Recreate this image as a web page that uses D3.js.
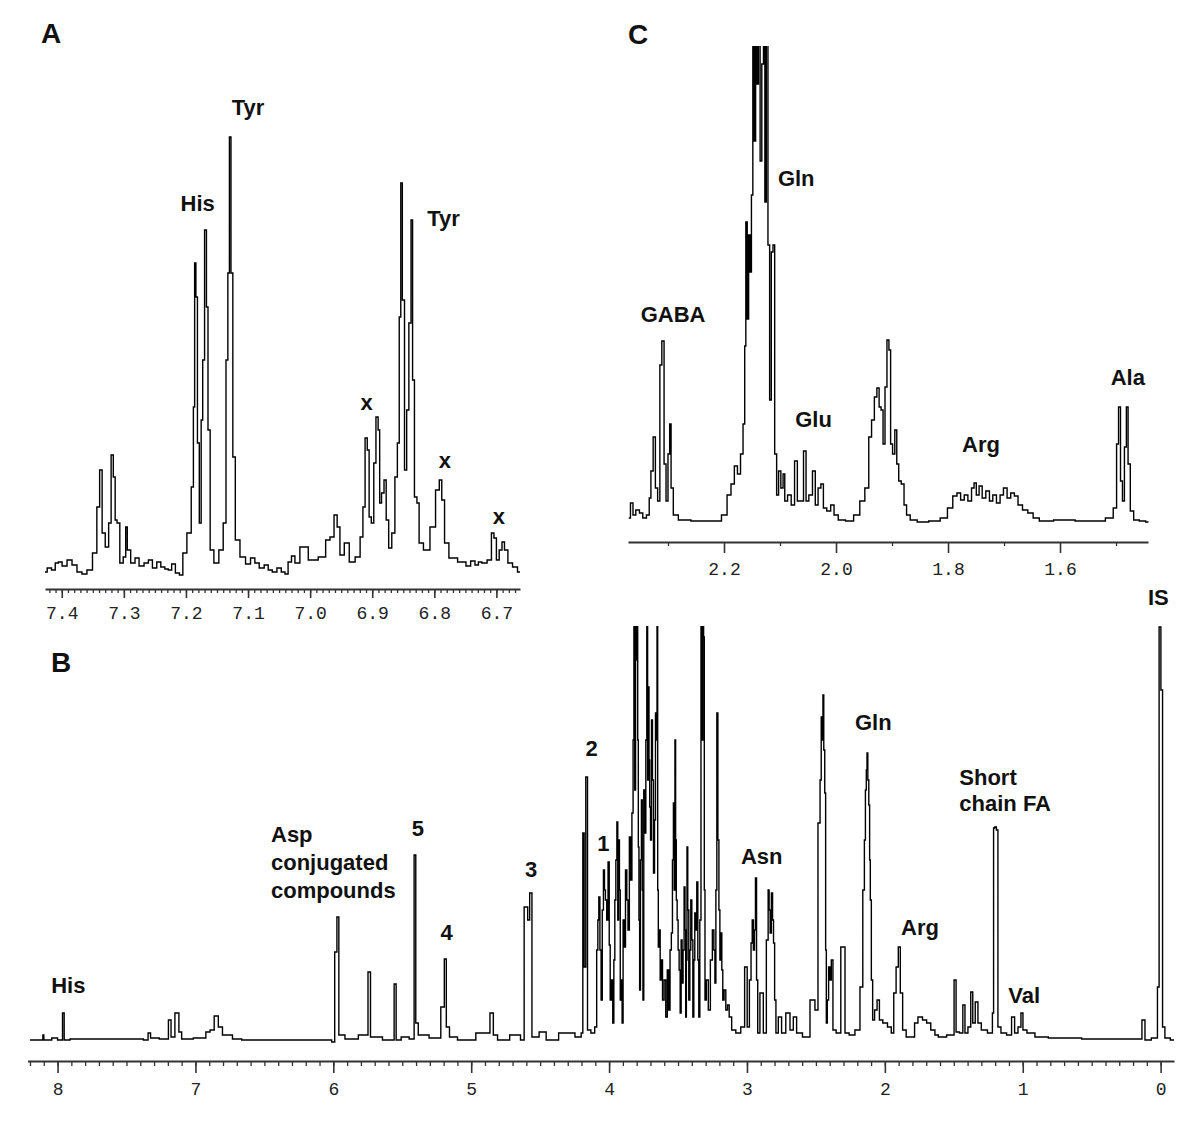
<!DOCTYPE html>
<html>
<head>
<meta charset="utf-8">
<script src="https://cdn.jsdelivr.net/npm/d3@7"></script>
<style>
  body { margin: 0; background: #fff; }
  svg { display: block; }
</style>
</head>
<body>
<svg id="fig" width="1200" height="1133"></svg>
<script>
// ---- panel A : aromatic region, [ppm, intensity]
const spectrumA = [
  [7.427,6],[7.420,10],[7.413,8],[7.408,15],[7.403,16],[7.396,12],[7.387,18],[7.380,13],[7.371,6],[7.364,4],[7.355,8],
  [7.346,25],[7.341,71],[7.337,108],[7.333,45],[7.327,31],[7.322,55],[7.319,123],[7.315,101],[7.313,58],[7.309,55],
  [7.304,15],[7.298,21],[7.296,51],[7.293,28],[7.285,15],[7.279,20],[7.272,12],[7.263,15],[7.258,18],[7.250,10],
  [7.244,16],[7.237,11],[7.231,9],[7.226,8],[7.220,14],[7.214,5],[7.207,3],[7.203,25],[7.194,45],[7.189,91],
  [7.187,171],[7.185,315],[7.183,281],[7.180,135],[7.177,55],[7.174,158],[7.172,218],[7.168,348],[7.166,271],
  [7.163,148],[7.159,28],[7.151,15],[7.143,28],[7.137,55],[7.134,218],[7.131,305],[7.129,441],[7.126,305],
  [7.123,121],[7.118,38],[7.108,21],[7.100,14],[7.092,20],[7.086,15],[7.078,10],[7.070,13],[7.065,8],[7.057,6],
  [7.050,10],[7.043,6],[7.038,4],[7.033,16],[7.027,22],[7.022,15],[7.011,31],[6.995,18],[6.979,21],[6.971,38],
  [6.965,41],[6.958,63],[6.955,51],[6.949,23],[6.941,35],[6.933,16],[6.922,21],[6.917,41],[6.913,71],[6.910,140],
  [6.906,128],[6.904,61],[6.899,55],[6.896,115],[6.892,161],[6.889,148],[6.887,75],[6.883,85],[6.879,98],
  [6.876,58],[6.871,30],[6.866,45],[6.861,101],[6.858,135],[6.855,261],[6.853,395],[6.850,278],[6.846,108],
  [6.843,168],[6.839,255],[6.836,358],[6.834,198],[6.830,81],[6.826,75],[6.823,35],[6.812,28],[6.802,51],
  [6.794,88],[6.790,98],[6.786,78],[6.781,35],[6.772,20],[6.753,16],[6.745,12],[6.738,17],[6.731,13],[6.727,16],
  [6.720,15],[6.710,18],[6.706,45],[6.702,40],[6.698,18],[6.693,28],[6.689,36],[6.685,28],[6.678,15],[6.670,11],
  [6.662,6]
];
const ticksA = [7.4, 7.3, 7.2, 7.1, 7.0, 6.9, 6.8, 6.7];
const labelsA = [
  ["His", 7.181, 375], ["Tyr", 7.100, 471], ["Tyr", 6.785, 360],
  ["x", 6.909, 176], ["x", 6.783, 118], ["x", 6.696, 62]
];

// ---- panel C : aliphatic zoom
const spectrumC = [
  [2.370,4],[2.364,19],[2.361,7],[2.354,12],[2.348,9],[2.342,4],[2.335,7],[2.332,24],[2.329,51],[2.324,85],
  [2.321,34],[2.316,21],[2.313,157],[2.309,181],[2.305,58],[2.302,21],[2.298,68],[2.296,98],[2.293,34],[2.288,7],
  [2.275,2],[2.243,1],[2.211,1],[2.198,7],[2.191,27],[2.184,38],[2.179,56],[2.173,48],[2.168,68],[2.164,98],
  [2.162,176],[2.160,300],[2.157,203],[2.155,287],[2.152,250],[2.150,327],[2.147,520],[2.145,381],[2.142,520],
  [2.140,438],[2.137,520],[2.134,361],[2.131,458],[2.128,520],[2.126,320],[2.123,520],[2.120,277],[2.117,122],
  [2.114,270],[2.111,277],[2.108,68],[2.104,27],[2.101,51],[2.096,34],[2.093,48],[2.090,21],[2.083,27],[2.077,17],
  [2.071,61],[2.067,21],[2.061,21],[2.055,71],[2.052,21],[2.045,27],[2.039,51],[2.035,17],[2.029,34],[2.025,38],
  [2.020,14],[2.013,11],[2.006,17],[2.001,7],[1.991,2],[1.975,1],[1.962,7],[1.953,21],[1.944,34],[1.939,85],
  [1.934,102],[1.929,125],[1.925,134],[1.921,115],[1.918,112],[1.914,78],[1.911,135],[1.907,182],[1.904,172],
  [1.901,78],[1.897,68],[1.893,92],[1.890,58],[1.886,41],[1.881,38],[1.876,17],[1.872,7],[1.863,2],[1.847,0],
  [1.822,1],[1.806,4],[1.796,14],[1.787,26],[1.781,29],[1.774,22],[1.768,27],[1.761,21],[1.755,34],[1.752,39],
  [1.747,27],[1.742,36],[1.736,24],[1.729,31],[1.723,21],[1.717,27],[1.710,19],[1.704,27],[1.698,34],[1.691,24],
  [1.685,29],[1.678,26],[1.672,17],[1.662,12],[1.653,9],[1.643,4],[1.631,1],[1.592,2],[1.554,1],[1.529,1],
  [1.509,4],[1.501,14],[1.497,78],[1.494,115],[1.490,41],[1.487,21],[1.483,75],[1.480,115],[1.477,58],[1.472,11],
  [1.465,2],[1.452,1],[1.442,0]
];
const ticksC = [2.2, 2.0, 1.8, 1.6];
const minorC = [2.3, 2.1, 1.9, 1.7, 1.5];
const labelsC = [
  ["GABA", 2.291, 208], ["Gln", 2.071, 344], ["Glu", 2.040, 103],
  ["Arg", 1.741, 78], ["Ala", 1.479, 145]
];

// ---- panel B : full spectrum
const spectrumB = [
  [8.200,0],[8.110,0],[8.103,5],[8.096,0],[8.054,0],[8.030,2],[7.970,0],[7.958,27],[7.946,0],[7.873,1],[7.716,1],
  [7.559,1],[7.402,1],[7.353,0],[7.334,7],[7.317,2],[7.208,1],[7.184,20],[7.170,3],[7.128,27],[7.112,8],[7.088,1],
  [6.943,2],[6.906,8],[6.882,10],[6.846,24],[6.822,13],[6.786,5],[6.677,1],[6.652,0],[6.024,0],[6.000,-2],
  [5.980,88],[5.968,123],[5.952,5],[5.879,1],[5.758,5],[5.739,68],[5.722,3],[5.565,0],[5.553,56],[5.536,0],
  [5.480,3],[5.420,1],[5.408,185],[5.396,17],[5.372,5],[5.239,2],[5.202,33],[5.188,81],[5.173,13],[5.142,3],
  [5.057,0],[4.876,7],[4.852,27],[4.827,5],[4.791,0],[4.651,5],[4.634,0],[4.598,133],[4.583,120],[4.569,147],
  [4.550,3],[4.465,8],[4.448,0],[4.284,7],[4.211,3],[4.194,7],[4.187,207],[4.175,73],[4.163,263],[4.150,10],
  [4.114,7],[4.095,13],[4.085,90],[4.071,143],[4.054,40],[4.037,170],[4.023,140],[4.003,178],[3.989,40],
  [3.969,17],[3.955,140],[3.940,218],[3.928,200],[3.916,40],[3.902,17],[3.887,93],[3.868,140],[3.848,203],
  [3.829,227],[3.817,440],[3.805,440],[3.795,440],[3.786,193],[3.776,50],[3.762,240],[3.752,40],[3.737,207],
  [3.723,440],[3.713,353],[3.703,233],[3.689,320],[3.674,167],[3.660,327],[3.650,440],[3.641,93],[3.626,60],
  [3.607,40],[3.583,23],[3.563,30],[3.544,107],[3.530,237],[3.520,300],[3.510,140],[3.496,90],[3.481,27],
  [3.467,57],[3.452,153],[3.442,23],[3.433,193],[3.418,40],[3.404,140],[3.389,23],[3.375,127],[3.360,158],
  [3.346,23],[3.329,440],[3.317,440],[3.312,403],[3.302,40],[3.273,30],[3.244,110],[3.229,57],[3.215,327],
  [3.200,130],[3.186,107],[3.172,40],[3.147,30],[3.123,23],[3.099,10],[3.063,7],[3.027,13],[3.007,73],[2.990,13],
  [2.966,97],[2.949,90],[2.935,162],[2.918,7],[2.894,47],[2.869,7],[2.843,150],[2.828,107],[2.818,147],[2.804,97],
  [2.785,7],[2.761,23],[2.737,7],[2.700,27],[2.676,10],[2.652,23],[2.628,7],[2.567,3],[2.519,40],[2.495,30],
  [2.475,217],[2.458,323],[2.446,345],[2.432,247],[2.422,17],[2.403,73],[2.384,80],[2.369,10],[2.338,7],
  [2.301,93],[2.277,7],[2.241,5],[2.193,10],[2.168,53],[2.152,150],[2.137,250],[2.127,287],[2.113,235],
  [2.103,140],[2.093,60],[2.084,20],[2.065,30],[2.048,40],[2.031,20],[1.999,17],[1.963,13],[1.944,7],[1.927,47],
  [1.910,73],[1.895,93],[1.881,47],[1.861,10],[1.830,3],[1.794,3],[1.775,17],[1.745,23],[1.709,20],[1.685,17],
  [1.649,10],[1.625,5],[1.600,3],[1.504,5],[1.492,60],[1.475,8],[1.443,7],[1.426,35],[1.412,7],[1.383,13],
  [1.371,48],[1.354,17],[1.335,38],[1.315,17],[1.286,10],[1.226,7],[1.214,27],[1.209,212],[1.197,213],
  [1.185,210],[1.175,13],[1.141,7],[1.093,5],[1.069,23],[1.049,7],[1.020,13],[1.006,27],[0.991,10],[0.948,7],
  [0.875,3],[0.754,2],[0.392,1],[0.150,1],[0.121,20],[0.106,0],[0.029,2],[0.017,53],[0.005,413],[-0.009,350],
  [-0.019,13],[-0.043,2],[-0.097,0]
];
// the crowded 2-4 ppm multiplets: further lines
const crowdB = [
  [4.078,120],[4.062,90],[4.045,130],[4.030,150],[4.012,120],[3.995,95],[3.978,60],[3.962,80],[3.947,180],
  [3.934,120],[3.922,150],[3.909,60],[3.895,120],[3.875,170],[3.858,110],[3.840,160],[3.823,300],[3.811,250],
  [3.800,380],[3.790,300],[3.781,120],[3.769,180],[3.757,150],[3.745,250],[3.730,300],[3.718,260],[3.708,280],
  [3.696,200],[3.682,260],[3.667,220],[3.655,300],[3.645,150],[3.633,110],[3.618,80],[3.595,60],[3.573,70],
  [3.553,90],[3.537,180],[3.525,150],[3.515,200],[3.503,120],[3.488,70],[3.474,100],[3.460,90],[3.447,110],
  [3.437,80],[3.426,130],[3.411,90],[3.396,100],[3.382,80],[3.368,110],[3.353,80],[3.338,120],[3.323,300],
  [3.307,150],[3.288,60],[3.258,80],[3.236,90],[3.222,150],[3.207,200],[3.193,80],[3.179,70],[3.160,50],
  [3.135,35],[2.975,60],[2.958,120],[2.942,110],[2.926,60],[2.850,100],[2.836,130],[2.811,120],[2.795,40],
  [2.465,260],[2.452,300],[2.440,290],[2.427,90],[2.413,40],[2.393,60],[2.145,200],[2.132,270],[2.120,260],
  [2.108,180]
];
const ticksB = [8, 7, 6, 5, 4, 3, 2, 1, 0];
const labelsB = [
  ["His", 7.922, 55], ["5", 5.386, 212], ["4", 5.178, 108], ["3", 4.566, 171],
  ["2", 4.126, 292], ["1", 4.042, 197], ["Asn", 2.893, 184], ["Gln", 2.084, 318],
  ["Arg", 1.745, 113], ["Val", 0.989, 45], ["IS", 0.017, 443]
];
// left aligned multi-line labels
const blockLabelsB = [
  ["Asp", 6.452, 206], ["conjugated", 6.452, 178], ["compounds", 6.452, 150],
  ["Short", 1.460, 263], ["chain FA", 1.460, 237]
];

const svg = d3.select('#fig');
const labelFont = '"Liberation Sans", Arial, Helvetica, sans-serif';
const tickFont = '"Liberation Mono", "Courier New", monospace';

function drawPanel(p) {
  const x = d3.scaleLinear().domain(p.xDom).range(p.xRange);
  const y = d3.scaleLinear().domain(p.yDom).range(p.yRange);
  const g = svg.append('g');

  svg.append('clipPath').attr('id', 'clip' + p.id)
    .append('rect')
    .attr('x', p.xRange[0] - 3).attr('y', p.clipTop)
    .attr('width', p.xRange[1] - p.xRange[0] + 6)
    .attr('height', p.axisY - p.clipTop);

  g.append('path')
    .datum(p.data)
    .attr('clip-path', `url(#clip${p.id})`)
    .attr('fill', 'none')
    .attr('stroke', '#000')
    .attr('stroke-width', 1.4)
    .attr('d', d3.line().x(d => x(d[0])).y(d => y(d[1])).curve(d3.curveStep));

  const minor = g.append('g')
    .attr('transform', `translate(0,${p.axisY})`)
    .call(d3.axisBottom(x).tickValues(p.minor).tickSize(p.minorLen).tickSizeOuter(0).tickFormat(''));
  minor.select('.domain').attr('stroke', '#333').attr('stroke-width', 2);
  minor.selectAll('.tick line').attr('stroke', '#333').attr('stroke-width', 1.3);

  const major = g.append('g')
    .attr('transform', `translate(0,${p.axisY})`)
    .call(d3.axisBottom(x).tickValues(p.major).tickSize(p.majorLen).tickPadding(p.pad)
      .tickSizeOuter(0).tickFormat(p.fmt));
  major.select('.domain').remove();
  major.selectAll('.tick line').attr('stroke', '#333').attr('stroke-width', 1.6);
  major.attr('font-family', tickFont).attr('font-size', 18);
  major.selectAll('.tick text').attr('fill', '#222');

  g.selectAll('text.lab')
    .data(p.labels)
    .join('text')
    .attr('class', 'lab')
    .attr('x', d => x(d[1]))
    .attr('y', d => y(d[2]))
    .attr('dy', '0.35em')
    .attr('text-anchor', 'middle')
    .attr('font-family', labelFont)
    .attr('font-weight', 'bold')
    .attr('font-size', 22)
    .attr('fill', '#111')
    .text(d => d[0]);

  if (p.block) {
    g.selectAll('text.blk')
      .data(p.block)
      .join('text')
      .attr('class', 'blk')
      .attr('x', d => x(d[1]))
      .attr('y', d => y(d[2]))
      .attr('dy', '0.35em')
      .attr('text-anchor', 'start')
      .attr('font-family', labelFont)
      .attr('font-weight', 'bold')
      .attr('font-size', 22)
      .attr('fill', '#111')
      .text(d => d[0]);
  }

  svg.append('text')
    .attr('x', p.letterPos[0]).attr('y', p.letterPos[1])
    .attr('dy', '0.35em')
    .attr('text-anchor', 'middle')
    .attr('font-family', labelFont)
    .attr('font-weight', 'bold')
    .attr('font-size', 28)
    .attr('fill', '#111')
    .text(p.id);
}

drawPanel({
  id: 'A', data: spectrumA,
  xDom: [7.427, 6.662], xRange: [45, 520],
  yDom: [0, 441], yRange: [578, 137], clipTop: 100,
  axisY: 589, major: ticksA, minor: d3.range(667, 743).map(i => i / 100),
  majorLen: 9, minorLen: 4, pad: 8, fmt: d3.format('.1f'),
  labels: labelsA, letterPos: [51, 33]
});

drawPanel({
  id: 'C', data: spectrumC,
  xDom: [2.3714, 1.4429], xRange: [628, 1148],
  yDom: [0, 476], yRange: [522, 46], clipTop: 46,
  axisY: 542, major: ticksC, minor: minorC,
  majorLen: 11, minorLen: 4, pad: 9, fmt: d3.format('.1f'),
  labels: labelsC, letterPos: [638, 34]
});

drawPanel({
  id: 'B', data: spectrumB.concat(crowdB).sort((a, b) => b[0] - a[0]),
  xDom: [8.218, -0.097], xRange: [27.5, 1174],
  yDom: [0, 414], yRange: [1040, 626], clipTop: 626,
  axisY: 1061, major: ticksB, minor: d3.range(0, 83).map(i => i / 10),
  majorLen: 12, minorLen: 5, pad: 9, fmt: d3.format('d'),
  labels: labelsB, block: blockLabelsB, letterPos: [61, 662]
});
</script>
</body>
</html>
